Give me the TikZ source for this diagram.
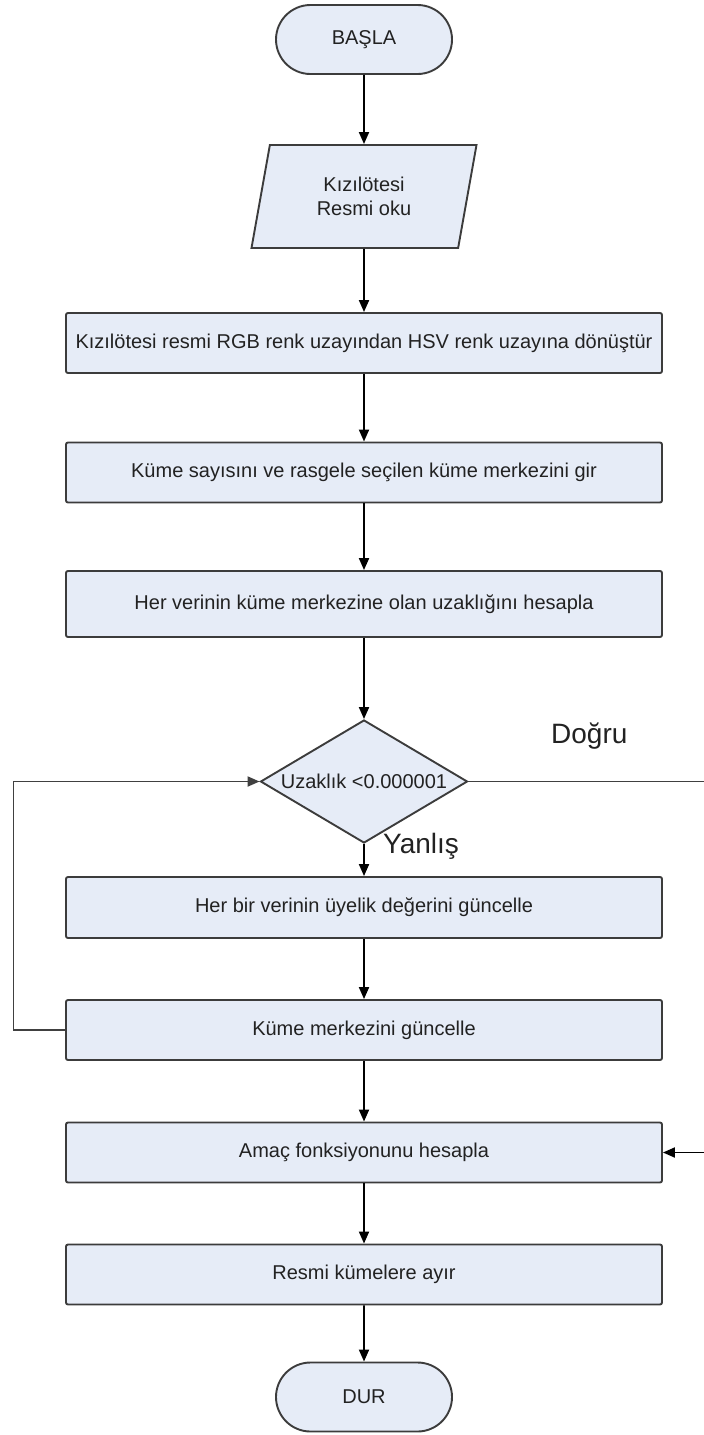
\documentclass[tikz,border=0pt]{standalone}
\usepackage{fontspec}
\setmainfont{Liberation Sans}
\usetikzlibrary{shapes.geometric,shapes.misc,arrows.meta}
\definecolor{boxfill}{HTML}{E6ECF7}
\definecolor{boxline}{HTML}{3C3C3C}
\definecolor{txt}{HTML}{222222}
\begin{document}
\begin{tikzpicture}[x=1pt,y=-1pt,
 every node/.style={font=\fontsize{20}{24}\selectfont, text=txt},
 proc/.style={draw=boxline, fill=boxfill, line width=1.9pt, rounded corners=2pt, minimum width=596pt, minimum height=60pt, inner sep=0pt},
 term/.style={draw=boxline, fill=boxfill, line width=1.9pt, rounded rectangle, minimum width=176pt, minimum height=69pt, inner sep=0pt},
 io/.style={trapezium, trapezium left angle=64.6, trapezium right angle=115.4, trapezium stretches body, draw=boxline, fill=boxfill, line width=1.9pt, minimum width=225pt, minimum height=103pt, inner sep=0pt, align=center},
 dec/.style={diamond, aspect=1.68, draw=boxline, fill=boxfill, line width=1.9pt, minimum width=207pt, minimum height=123pt, inner sep=0pt},
 flow/.style={draw=black, line width=1.9pt, -{Triangle[length=12pt,width=10pt]}},
 plain/.style={draw=black!75, line width=1.9pt},
 lbl/.style={font=\fontsize{28}{32}\selectfont, anchor=base west, inner sep=0pt}
]
\useasboundingbox (0,0) rectangle (704,1435);

\node[term] (start) at (364,39.5) {BAŞLA};
\node[io] (in) at (364,196.5) {Kızılötesi\\Resmi oku};
\node[proc] (b1) at (364,343) {Kızılötesi resmi RGB renk uzayından HSV renk uzayına dönüştür};
\node[proc] (b2) at (364,472.5) {Küme sayısını ve rasgele seçilen küme merkezini gir};
\node[proc, minimum height=66pt] (b3) at (364,604) {Her verinin küme merkezine olan uzaklığını hesapla};
\node[dec] (dec) at (364,781.5) {Uzaklık <0.000001};
\node[proc, minimum height=61pt] (b4) at (364,907.5) {Her bir verinin üyelik değerini güncelle};
\node[proc] (b5) at (364,1030) {Küme merkezini güncelle};
\node[proc] (b6) at (364,1152.5) {Amaç fonksiyonunu hesapla};
\node[proc] (b7) at (364,1274.5) {Resmi kümelere ayır};
\node[term] (stop) at (364,1397) {DUR};

\node[lbl] (dogru) at (551,743) {Doğru};
\node[lbl] (yanlis) at (383,853) {Yanlış};

\coordinate (lc1) at (13.5,1030);
\coordinate (lc2) at (13.5,781.5);
\coordinate (r1) at (704,781.5);
\coordinate (r2) at (704,1152.5);

\draw[flow] (start) -- (in);
\draw[flow] (in) -- (b1);
\draw[flow] (b1) -- (b2);
\draw[flow] (b2) -- (b3);
\draw[flow] (b3) -- (dec);
\draw[flow] (dec) -- (b4);
\draw[flow] (b4) -- (b5);
\draw[flow] (b5) -- (b6);
\draw[flow] (b6) -- (b7);
\draw[flow] (b7) -- (stop);
\draw[plain, -{Triangle[length=12pt,width=10pt]}] (b5.west) -- (lc1) -- (lc2) -- (dec.west);
\draw[plain] (dec.east) -- (r1);
\draw[flow] (r2) -- (b6.east);
\end{tikzpicture}
\end{document}
